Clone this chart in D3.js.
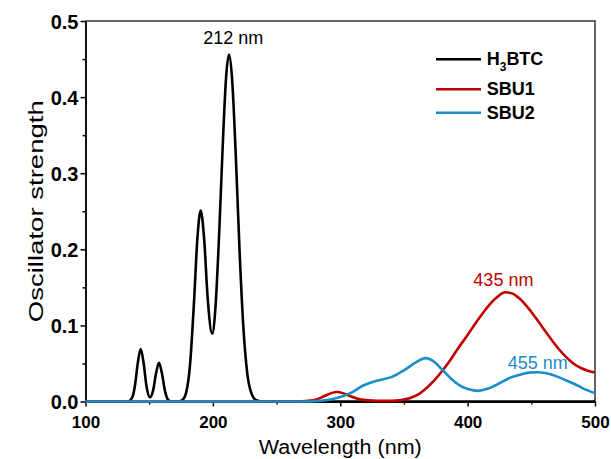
<!DOCTYPE html>
<html>
<head>
<meta charset="utf-8">
<script src="https://cdn.jsdelivr.net/npm/d3@7"></script>
<style>
  body { margin: 0; background: #fff; }
  text { font-family: "Liberation Sans", Arial, sans-serif; }
</style>
</head>
<body>
<svg id="chart" width="611" height="459"></svg>
<script>
// data (wavelength nm, oscillator strength)
const h3btcWl = [100, 130, 134, 137, 139, 141, 143.3, 145.5, 148, 150.5, 153, 155.5, 157.7, 160, 162.5, 165, 168, 172, 176, 179, 182, 185, 188, 190.4, 193, 196, 199.5, 202, 205, 208, 210.5, 212.7, 215, 218, 221, 224, 227, 230, 234, 240, 500]
const h3btcF  = [0, 0, 0.0004, 0.0065, 0.023, 0.050, 0.069, 0.052, 0.019, 0.0055, 0.014, 0.038, 0.051, 0.037, 0.013, 0.0021, 0.0001, 0, 0.0019, 0.0116, 0.047, 0.125, 0.218, 0.251, 0.217, 0.134, 0.089, 0.123, 0.223, 0.347, 0.429, 0.456, 0.426, 0.323, 0.196, 0.096, 0.037, 0.012, 0.0018, 0, 0]

const sbu1Wl = [100, 265, 275, 282, 288, 293, 297.5, 302, 307, 313, 320, 330, 340, 348, 355, 362, 368, 374, 380, 387, 393, 399, 405, 411, 417, 423, 429.5, 435, 441, 447, 453, 459, 465, 471, 477, 483, 489, 495, 500]
const sbu1F  = [0, 0, 0.0008, 0.003, 0.0075, 0.011, 0.0125, 0.011, 0.0075, 0.004, 0.0018, 0.0008, 0.0008, 0.0018, 0.0045, 0.010, 0.018, 0.028, 0.040, 0.056, 0.071, 0.085, 0.100, 0.114, 0.127, 0.137, 0.1435, 0.142, 0.135, 0.124, 0.111, 0.097, 0.083, 0.070, 0.059, 0.050, 0.044, 0.040, 0.038]

const sbu2Wl = [100, 275, 280, 290, 300, 308, 318, 326, 333, 340, 350, 360, 367, 373, 380, 387, 394, 401, 408, 416, 425, 433, 441, 448, 455, 462, 470, 477, 484, 491, 500]
const sbu2F  = [0, 0, 0.0005, 0.002, 0.006, 0.011, 0.021, 0.026, 0.029, 0.032, 0.041, 0.052, 0.057, 0.053, 0.042, 0.030, 0.021, 0.016, 0.014, 0.017, 0.024, 0.031, 0.035, 0.038, 0.0385, 0.037, 0.033, 0.028, 0.023, 0.017, 0.011]

const seriesNames = ["H3BTC", "SBU1", "SBU2"]
const colors = ["#000000", "#c00000", "#1b8dc8"]
const xTicks = [100, 200, 300, 400, 500]
const yTicks = [0.0, 0.1, 0.2, 0.3, 0.4, 0.5]
const peakText = ["212 nm", "435 nm", "455 nm"]
const peakWl = [212, 432, 455]
const peakF = [0.462, 0.143, 0.038]

const MARGIN = { LEFT: 85.5, TOP: 21, RIGHT: 16, BOTTOM: 57.5 }
const WIDTH = 611 - MARGIN.LEFT - MARGIN.RIGHT
const HEIGHT = 459 - MARGIN.TOP - MARGIN.BOTTOM

const svg = d3.select("#chart")
const g = svg.append("g").attr("transform", `translate(${MARGIN.LEFT}, ${MARGIN.TOP})`)

// scales
const x = d3.scaleLinear().domain([100, 500]).range([0, WIDTH])
const y = d3.scaleLinear().domain([0, 0.5]).range([HEIGHT, 0])

// frame (top + right)
g.append("path")
  .attr("d", `M0,0H${WIDTH}V${HEIGHT}`)
  .attr("fill", "none")
  .attr("stroke", "#333")
  .attr("stroke-width", 1.5)

// axes
const xAxisCall = d3.axisBottom(x).tickValues(xTicks).tickFormat(d3.format("d")).tickSizeInner(5).tickSizeOuter(0).tickPadding(9)
const xMinor = d3.axisBottom(x).tickValues(d3.range(150, 500, 100)).tickFormat("").tickSizeInner(3).tickSizeOuter(0)
const yAxisCall = d3.axisLeft(y).tickValues(yTicks).tickFormat(d3.format(".1f")).tickSizeInner(5).tickSizeOuter(0).tickPadding(2)
const yMinor = d3.axisLeft(y).tickValues(d3.range(0.05, 0.5, 0.1)).tickFormat("").tickSizeInner(3).tickSizeOuter(0)

const xAxis = g.append("g").attr("class", "x axis").attr("transform", `translate(0, ${HEIGHT})`).call(xAxisCall)
g.append("g").attr("transform", `translate(0, ${HEIGHT})`).call(xMinor)
const yAxis = g.append("g").attr("class", "y axis").call(yAxisCall)
g.append("g").call(yMinor)

g.selectAll(".domain").attr("stroke", "#000").attr("stroke-width", 1.5)
g.selectAll(".tick line").attr("stroke", "#000").attr("stroke-width", 1.5)
g.selectAll(".tick text").attr("font-weight", "bold").attr("fill", "#000")
  .attr("font-family", "'Liberation Sans', Arial, sans-serif")
xAxis.selectAll(".tick text").attr("font-size", "17px")
yAxis.selectAll(".tick text").attr("font-size", "20px").attr("dy", "0.36em")

// axis labels
g.append("text")
  .attr("x", WIDTH / 2)
  .attr("y", HEIGHT + 52)
  .attr("text-anchor", "middle")
  .attr("font-size", "20px")
  .attr("textLength", 163)
  .attr("lengthAdjust", "spacingAndGlyphs")
  .text("Wavelength (nm)")

g.append("text")
  .attr("transform", "rotate(-90)")
  .attr("x", -HEIGHT / 2)
  .attr("y", -42.5)
  .attr("text-anchor", "middle")
  .attr("font-size", "21px")
  .attr("textLength", 222)
  .attr("lengthAdjust", "spacingAndGlyphs")
  .text("Oscillator strength")

// lines
const line = d3.line()
  .x(d => x(d[0]))
  .y(d => y(d[1]))
  .curve(d3.curveMonotoneX)

const allSeries = [
  d3.zip(h3btcWl, h3btcF),
  d3.zip(sbu1Wl, sbu1F),
  d3.zip(sbu2Wl, sbu2F)
]

allSeries.forEach((s, i) => {
  g.append("path")
    .attr("class", "line")
    .attr("d", line(s))
    .attr("fill", "none")
    .attr("stroke", colors[i])
    .attr("stroke-width", 2.6)
    .attr("stroke-linejoin", "round")
})

// peak labels
const labelDx = [5, -5, 0]
const labelDy = [-6, -7, -4]
peakText.forEach((t, i) => {
  g.append("text")
    .attr("x", x(peakWl[i]) + labelDx[i])
    .attr("y", y(peakF[i]) + labelDy[i])
    .attr("text-anchor", "middle")
    .attr("font-size", "18px")
    .attr("fill", colors[i])
    .text(t)
})

// legend
const legend = svg.append("g").attr("transform", "translate(436, 59.3)")
const legendY = [0, 30, 53.4]
seriesNames.forEach((name, i) => {
  const row = legend.append("g").attr("transform", `translate(0, ${legendY[i]})`)
  row.append("line").attr("x1", 0).attr("x2", 45).attr("y1", 0).attr("y2", 0)
    .attr("stroke", colors[i]).attr("stroke-width", 2.6)
  const t = row.append("text").attr("x", 50.7).attr("y", 5.8)
    .attr("font-size", "18px").attr("font-weight", "bold").attr("fill", "#000")
  if (name === "H3BTC") {
    t.append("tspan").text("H")
    t.append("tspan").attr("font-size", "12px").attr("dy", 6).text("3")
    t.append("tspan").attr("dy", -6).text("BTC")
  } else {
    t.text(name)
  }
})
</script>
</body>
</html>
